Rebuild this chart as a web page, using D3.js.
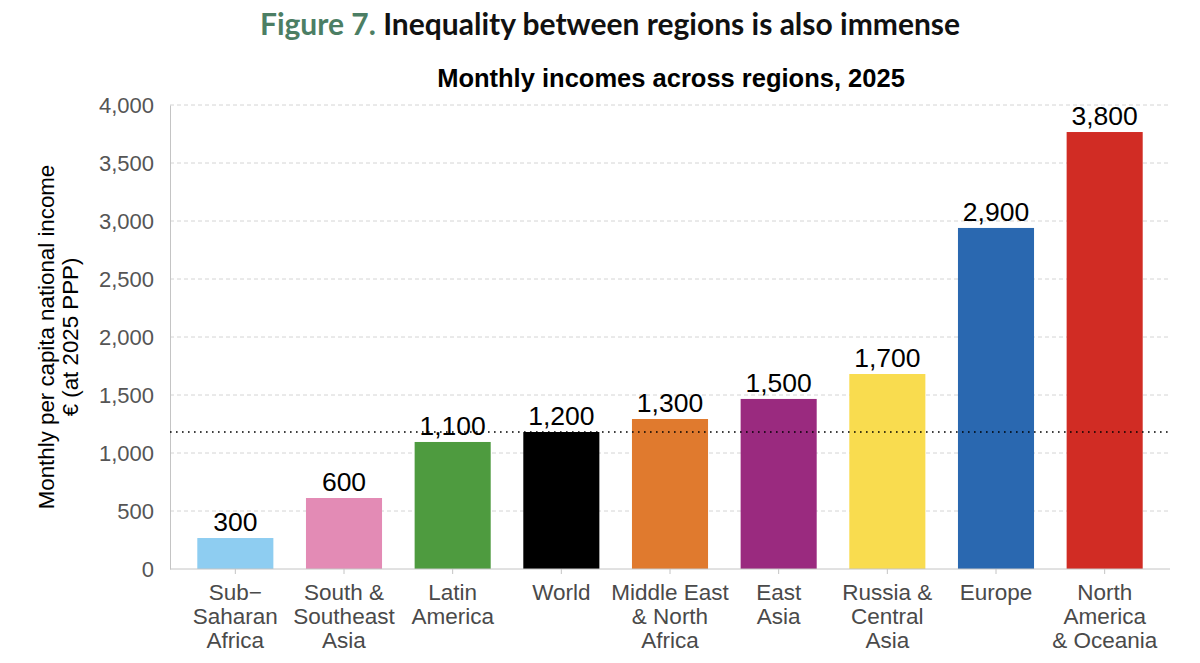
<!DOCTYPE html>
<html><head><meta charset="utf-8">
<script src="https://cdn.jsdelivr.net/npm/d3@7"></script>
<style>body{margin:0;background:#fff;} svg{display:block;}</style>
</head><body>
<svg id="c" width="1200" height="663"></svg>
<script>
const categories = [["Sub\u2212","Saharan","Africa"],["South &","Southeast","Asia"],["Latin","America"],["World"],["Middle East","& North","Africa"],["East","Asia"],["Russia &","Central","Asia"],["Europe"],["North","America","& Oceania"]];
const values = [267, 612, 1095, 1181, 1293, 1466, 1681, 2940, 3767];
const valueLabels = ["300","600","1,100","1,200","1,300","1,500","1,700","2,900","3,800"];
const colors = ["#8ecdf1","#e38bb5","#4e9b3f","#000000","#e07a2e","#9a2a7f","#f9dc4f","#2a68b0","#d12c24"];
const yTicks = [0,500,1000,1500,2000,2500,3000,3500,4000];
const worldValue = 1181;

(function(){
const svg = d3.select("#c");
const pLeft = 170, pRight = 1170, pTop = 105, pBottom = 569;
const ids = categories.map((d,i)=>i);
const x = d3.scaleBand().domain(ids).range([181, 1159]).paddingInner(0.3).paddingOuter(0.15);
const y = d3.scaleLinear().domain([0,4000]).range([pBottom, pTop]);
const sans = "Liberation Sans, Arial, sans-serif";

// title
const t = svg.append("text").attr("x", 610).attr("y", 35).attr("text-anchor","middle")
  .style("font-family","Lato").style("font-weight","700").style("font-size","30px");
t.append("tspan").attr("fill","#4c7e64").text("Figure 7. ");
t.append("tspan").attr("fill","#111").text("Inequality between regions is also immense");

svg.append("text").attr("x", 671).attr("y", 87).attr("text-anchor","middle")
  .style("font-family",sans).style("font-weight","700").style("font-size","25.5px")
  .attr("fill","#000").text("Monthly incomes across regions, 2025");

// grid
svg.append("g").selectAll("line").data(yTicks.filter(d=>d>0)).join("line")
  .attr("x1", pLeft).attr("x2", pRight).attr("y1", d=>y(d)).attr("y2", d=>y(d))
  .attr("stroke","#d4d4d4").attr("stroke-dasharray","4,3").attr("stroke-width",1);

// y axis
const ya = svg.append("g").attr("transform",`translate(${pLeft},0)`)
  .call(d3.axisLeft(y).tickValues(yTicks).tickSize(0).tickPadding(16).tickFormat(d3.format(",")));
ya.select(".domain").attr("stroke","#c4c4c4");
ya.selectAll("text").style("font-family",sans).style("font-size","22px").attr("fill","#555");

// bars
svg.append("g").selectAll("rect").data(values).join("rect")
  .attr("x",(d,i)=>x(i)).attr("width",x.bandwidth())
  .attr("y",d=>y(d)).attr("height",d=>y(0)-y(d)).attr("fill",(d,i)=>colors[i]);

// x axis
const xa = svg.append("g").attr("transform",`translate(0,${pBottom})`)
  .call(d3.axisBottom(x).tickSize(5).tickFormat(""));
xa.select(".domain").remove();
xa.selectAll("line").attr("stroke","#c4c4c4");
svg.append("line").attr("x1",pLeft).attr("x2",pRight).attr("y1",pBottom).attr("y2",pBottom).attr("stroke","#c4c4c4");

// category labels
const cl = svg.append("g").selectAll("text").data(categories).join("text")
  .attr("x",(d,i)=>x(i)+x.bandwidth()/2).attr("y",600).attr("text-anchor","middle")
  .style("font-family",sans).style("font-size","22.5px").attr("fill","#4a4a4a");
cl.selectAll("tspan").data(d=>d).join("tspan")
  .attr("x",function(){return this.parentNode.getAttribute("x");})
  .attr("dy",(d,i)=>i===0?0:24).text(d=>d);

// dotted world line
svg.append("line").attr("x1",pLeft).attr("x2",pRight).attr("y1",y(worldValue)).attr("y2",y(worldValue))
  .attr("stroke","#000").attr("stroke-width",1.6).attr("stroke-dasharray","1.6,4.4");

// value labels
svg.append("g").selectAll("text").data(values).join("text")
  .attr("x",(d,i)=>x(i)+x.bandwidth()/2).attr("y",d=>y(d)-7).attr("text-anchor","middle")
  .style("font-family",sans).style("font-size","26.5px").attr("fill","#000")
  .text((d,i)=>valueLabels[i]);

// y title
const yt = svg.append("text").attr("transform",`translate(54,${(pTop+pBottom)/2}) rotate(-90)`)
  .attr("text-anchor","middle").style("font-family",sans).style("font-size","22.3px").attr("fill","#000");
yt.append("tspan").attr("x",0).attr("dy",0).text("Monthly per capita national income");
yt.append("tspan").attr("x",0).attr("dy",24).text("\u20ac (at 2025 PPP)");
})();
</script>
</body></html>
